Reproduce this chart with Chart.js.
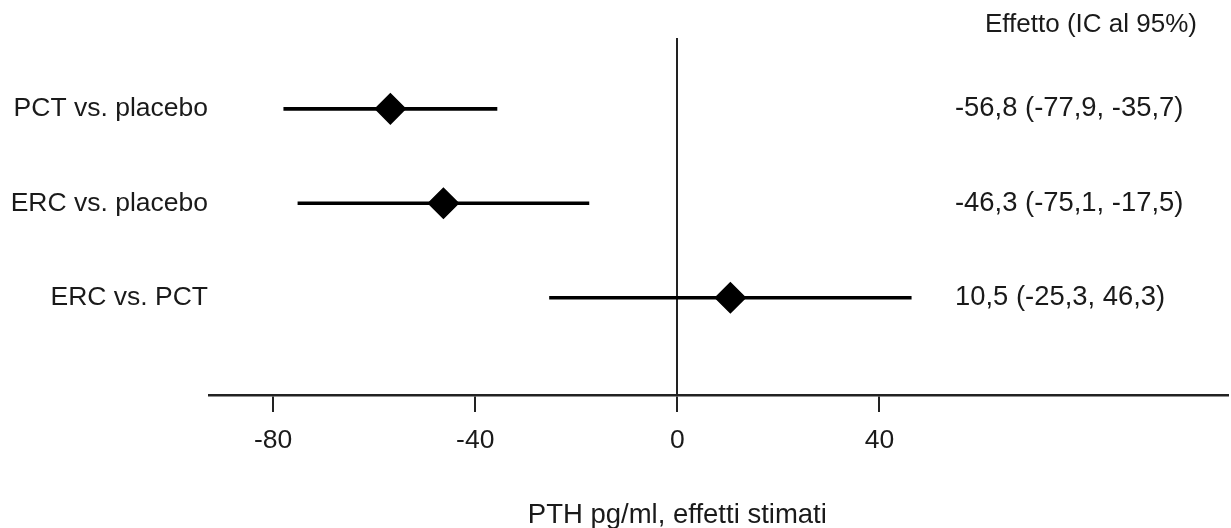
<!DOCTYPE html>
<html>
<head>
<meta charset="utf-8">
<script src="https://cdn.jsdelivr.net/npm/chart.js@4"></script>
<style>
html, body { margin: 0; padding: 0; background: #fff; }
</style>
</head>
<body>
<canvas id="forest" width="1231" height="528"></canvas>
<script>
// dati
const confronti = ["PCT vs. placebo", "ERC vs. placebo", "ERC vs. PCT"];
const righe = [1, 2, 3];
const stime = [-56.8, -46.3, 10.5];
const icInf = [-77.9, -75.1, -25.3];
const icSup = [-35.7, -17.5, 46.3];
const tickX = [-80, -40, 0, 40];
const intestazione = "Effetto (IC al 95%)";
const titoloAsse = "PTH pg/ml, effetti stimati";

const FONT = '"Liberation Sans", Arial, sans-serif';
const TXT = "#1a1a1a";

function fmt(v) {
  return v.toFixed(1).replace(".", ",");
}

// testi a destra + titolo asse centrato sullo zero
const testiPlugin = {
  id: "testi",
  afterDraw(chart) {
    const ctx = chart.ctx;
    const x = chart.scales.x, y = chart.scales.y;
    ctx.save();
    ctx.fillStyle = TXT;
    ctx.textBaseline = "middle";
    ctx.textAlign = "left";
    ctx.font = "26px " + FONT;
    ctx.fillText(intestazione, 985, 25);
    ctx.font = "27.4px " + FONT;
    righe.forEach((r, i) => {
      const s = fmt(stime[i]) + " (" + fmt(icInf[i]) + ", " + fmt(icSup[i]) + ")";
      ctx.fillText(s, 955, y.getPixelForValue(r));
    });
    ctx.textAlign = "center";
    ctx.font = "27.5px " + FONT;
    ctx.fillText(titoloAsse, x.getPixelForValue(0), 515);
    ctx.restore();
  }
};

new Chart(document.getElementById("forest"), {
  type: "bar",
  data: {
    datasets: [
      {
        type: "scatter",
        data: righe.map((r, i) => ({ x: stime[i], y: r })),
        pointStyle: "rectRot",
        pointRadius: 15,
        pointHoverRadius: 15,
        backgroundColor: "#000",
        borderColor: "#000",
        borderWidth: 1.5
      },
      {
        type: "bar",
        data: righe.map((r, i) => ({ y: r, x: [icInf[i], icSup[i]] })),
        backgroundColor: "#000",
        barThickness: 3,
        borderWidth: 0
      }
    ]
  },
  options: {
    indexAxis: "y",
    responsive: false,
    animation: false,
    layout: { autoPadding: false, padding: { top: 38, right: 3, left: 0, bottom: 0 } },
    plugins: { legend: { display: false }, tooltip: { enabled: false } },
    scales: {
      x: {
        type: "linear",
        position: "bottom",
        min: -92.7,
        max: 109,
        afterBuildTicks: (s) => { s.ticks = tickX.map(v => ({ value: v })); },
        afterFit: (s) => { s.height = 133; },
        border: { display: true, color: "#222", width: 2.5 },
        grid: {
          drawOnChartArea: true,
          color: (c) => (c.tick && c.tick.value === 0 ? "#222" : "rgba(0,0,0,0)"),
          tickColor: "#222",
          lineWidth: 2,
          tickLength: 17
        },
        ticks: {
          color: TXT,
          padding: 13,
          font: { family: FONT, size: 26.5 },
          callback: (v) => String(v)
        }
      },
      y: {
        type: "linear",
        position: "left",
        reverse: true,
        offset: false,
        min: 0.25,
        max: 4.03,
        afterBuildTicks: (s) => { s.ticks = righe.map(v => ({ value: v })); },
        afterFit: (s) => { s.width = 209; },
        border: { display: false },
        grid: { display: false, drawTicks: false },
        ticks: {
          color: TXT,
          padding: 1,
          font: { family: FONT, size: 26.5 },
          callback: (v) => confronti[righe.indexOf(v)]
        }
      }
    }
  },
  plugins: [testiPlugin]
});
</script>
</body>
</html>
